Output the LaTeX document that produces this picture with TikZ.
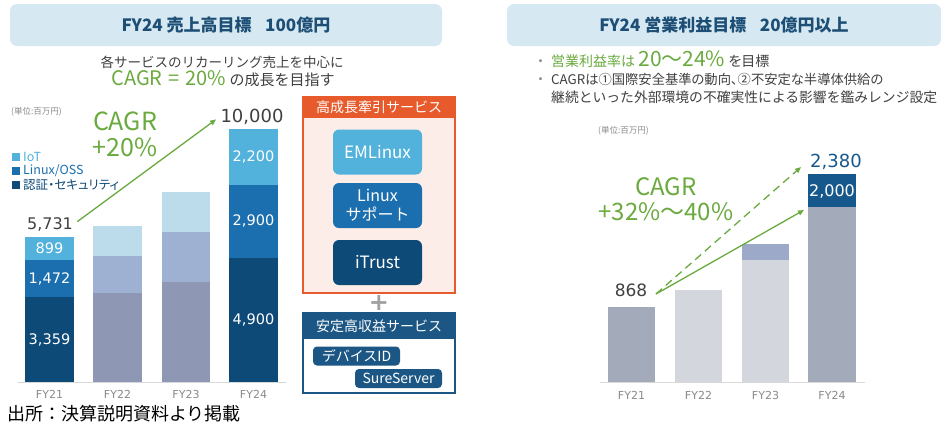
\documentclass[tikz,border=0pt]{standalone}
\usepackage{fontspec}
\setmainfont{Noto Sans CJK JP}[RawFeature=+palt]
\newfontfamily\jpfull{Noto Sans CJK JP}
\newfontfamily\num{DejaVu Sans}
\usetikzlibrary{arrows.meta}
\definecolor{hdrbg}{HTML}{D6E9F2}
\definecolor{hdrtxt}{HTML}{1D4E75}
\definecolor{cgreen}{HTML}{6AAA3F}
\definecolor{ciot}{HTML}{52B2DC}
\definecolor{clinux}{HTML}{1C6FAE}
\definecolor{csec}{HTML}{0E4A77}
\definecolor{pl}{HTML}{BCDCEC}
\definecolor{pm}{HTML}{9FB1D3}
\definecolor{pd}{HTML}{8E98B4}
\definecolor{corange}{HTML}{E65A2B}
\definecolor{cpink}{HTML}{FCEDE8}
\definecolor{cnavy}{HTML}{1B5684}
\definecolor{rga}{HTML}{A3ABBA}
\definecolor{rgb}{HTML}{D3D6DD}
\definecolor{rbc}{HTML}{9DA9C9}
\definecolor{rdark}{HTML}{17588C}
\definecolor{txtd}{HTML}{404040}
\definecolor{txtg}{HTML}{8A8A8A}
\definecolor{axisc}{HTML}{D9D9D9}
\definecolor{plusc}{HTML}{A0A0A0}
\newcommand\myfs[1]{\fontsize{#1}{#1}\selectfont}
\begin{document}
\begin{tikzpicture}[x=1pt,y=-1pt,
  hdr/.style={fill=hdrbg, rounded corners=7pt, text=hdrtxt, inner sep=0pt, font=\bfseries\myfs{17}},
  svc/.style={rounded corners=6pt, text=white, minimum width=89pt, minimum height=45pt, inner sep=0pt, align=center},
  tagbox/.style={fill=cnavy, rounded corners=4pt, text=white, minimum width=87pt, minimum height=19pt, inner sep=0pt, font=\jpfull\myfs{14}},
  barnum/.style={text=white, font=\num\myfs{14.5}},
  fylab/.style={text=txtg, font=\num\myfs{11}},
  unitlab/.style={text=txtg, anchor=west, inner sep=0pt, font=\myfs{8.5}},
  lgsq/.style={minimum size=8pt, inner sep=0pt},
  lgtxt/.style={anchor=west, inner sep=0pt, font=\myfs{12.5}},
  garrow/.style={draw=cgreen, line width=1.3pt, -{Triangle[length=6pt,width=5pt]}},
  axisline/.style={draw=axisc, line width=0.8pt},
  bultxt/.style={anchor=base west, inner sep=0pt, text=txtd, font=\myfs{14}},
]
\useasboundingbox (0,0) rectangle (941,429);
\fill[white] (0,0) rectangle (941,429);

% ---------- left panel ----------
\node[hdr, minimum width=432pt, minimum height=42pt] (lhead) at (226,25) {FY24 売上高目標\hspace{0.8em}100億円};
\node[text=txtd, font=\jpfull\myfs{13.5}] (lsub1) at (222,62) {各サービスのリカーリング売上を中心に};
\node[text=txtd, font=\jpfull\myfs{15}] (lsub2) at (223,79) {{\color{cgreen}\myfs{20}CAGR\hspace{0.3em}=\hspace{0.3em}20\%} の成長を目指す};

\node[unitlab] (lunit) at (11,112) {(単位:百万円)};
\node[lgsq, fill=ciot] (sq1) at (16,157) {};
\node[lgtxt, text=ciot] (lg1) at (23,157) {IoT};
\node[lgsq, fill=clinux] (sq2) at (16,171) {};
\node[lgtxt, text=clinux] (lg2) at (23,171) {Linux/OSS};
\node[lgsq, fill=csec] (sq3) at (16,185) {};
\node[lgtxt, text=csec] (lg3) at (23,185) {認証・セキュリティ};

\node[text=cgreen, font={\fontsize{25}{26}\selectfont}, align=center] (lcagr) at (125,134) {CAGR\\+20\%};

% bars
\fill[ciot] (25,237) rectangle (74,260);
\fill[clinux] (25,260) rectangle (74,297);
\fill[csec] (25,297) rectangle (74,382);
\fill[pl] (93,226) rectangle (142,256);
\fill[pm] (93,256) rectangle (142,293);
\fill[pd] (93,293) rectangle (142,382);
\fill[pl] (162,192) rectangle (210,232);
\fill[pm] (162,232) rectangle (210,282);
\fill[pd] (162,282) rectangle (210,382);
\fill[ciot] (229,129) rectangle (278,185);
\fill[clinux] (229,185) rectangle (278,258);
\fill[csec] (229,258) rectangle (278,382);
\draw[axisline] (18,382.5) -- (286,382.5);

\node[barnum] (n899) at (49.5,248.5) {899};
\node[barnum] (n1472) at (49.5,278.5) {1,472};
\node[barnum] (n3359) at (49.5,339.5) {3,359};
\node[barnum] (n2200) at (253.5,157) {2,200};
\node[barnum] (n2900) at (253.5,221) {2,900};
\node[barnum] (n4900) at (253.5,320) {4,900};

\node[fylab] (fa1) at (49.5,394) {FY21};
\node[fylab] (fa2) at (117.5,394) {FY22};
\node[fylab] (fa3) at (186,394) {FY23};
\node[fylab] (fa4) at (253.5,394) {FY24};

\node[text=txtd, font=\num\myfs{16}, inner sep=1pt] (v5731) at (50,224) {5,731};
\node[text=txtd, font=\num\myfs{18}, inner sep=1pt] (v10000) at (252,117) {10,000};
\draw[garrow, shorten <=4pt, shorten >=4pt] (v5731.east) -- (v10000.west);

% service boxes
\node[draw=corange, fill=cpink, line width=1.5pt, minimum width=152pt, minimum height=196pt, inner sep=0pt] (obox) at (379,195) {};
\node[fill=corange, minimum width=152pt, minimum height=22pt, anchor=north, text=white, font=\jpfull\myfs{14}, inner sep=0pt] (ohead) at (obox.north) {高成長牽引サービス};
\node[svc, fill=ciot, font=\myfs{17}] (em) at (377.5,152) {EMLinux};
\node[svc, fill=clinux, font={\jpfull\fontsize{16}{19}\selectfont}] (ls) at (377.5,205.5) {Linux\\サポート};
\node[svc, fill=csec, font=\myfs{17}] (it) at (377.5,262.5) {iTrust};

\node[text=plusc, font=\num\bfseries\myfs{24}] (plus) at (379,303) {+};

\node[draw=cnavy, fill=white, line width=1.5pt, minimum width=152pt, minimum height=80pt, inner sep=0pt] (bbox) at (379,353) {};
\node[fill=cnavy, minimum width=152pt, minimum height=27pt, anchor=north, text=white, font=\jpfull\myfs{14}, inner sep=0pt] (bhead) at (bbox.north) {安定高収益サービス};
\node[tagbox] (devid) at (356.5,356) {デバイスID};
\node[tagbox] (sure) at (398.5,378.5) {SureServer};

\node[anchor=west, font=\jpfull\myfs{18}, inner sep=0pt] (src) at (7,414) {出所：決算説明資料より掲載};

% ---------- right panel ----------
\node[hdr, minimum width=434pt, minimum height=42pt] (rhead) at (724,25) {FY24 営業利益目標\hspace{0.8em}20億円以上};

\node[bultxt, text=txtg] (bu1) at (537,66) {・};
\node[bultxt, text=cgreen] (b1) at (551,66) {営業利益率は {\myfs{21}20～24\%} {\color{txtd}を目標}};
\node[bultxt, text=txtg] (bu2) at (537,84) {・};
\node[bultxt, font=\myfs{13.3}] (b2) at (551,84) {CAGRは①国際安全基準の動向、②不安定な半導体供給の};
\node[bultxt, font=\jpfull\myfs{13.8}] (b3) at (551,102) {継続といった外部環境の不確実性による影響を鑑みレンジ設定};

\node[unitlab] (runit) at (598,131) {(単位:百万円)};

\fill[rga] (608,307) rectangle (655,382);
\fill[rgb] (675,290) rectangle (722,382);
\fill[rbc] (742,244) rectangle (789,260);
\fill[rgb] (742,260) rectangle (789,382);
\fill[rdark] (808,174) rectangle (856,207);
\fill[rga] (808,207) rectangle (856,382);
\draw[axisline] (600,382.5) -- (865,382.5);

\node[fylab] (fb1) at (631.5,395) {FY21};
\node[fylab] (fb2) at (698.5,395) {FY22};
\node[fylab] (fb3) at (765.5,395) {FY23};
\node[fylab] (fb4) at (832,395) {FY24};

\node[text=txtd, font=\num\myfs{17}, inner sep=1pt] (v868) at (631,290) {868};
\node[text=rdark, font=\num\myfs{18}, inner sep=1pt] (v2380) at (836,162) {2,380};
\node[barnum, font=\num\myfs{16}] (v2000) at (832,191) {2,000};

\node[text=cgreen, font={\fontsize{24}{24.5}\selectfont}, align=center] (rcagr) at (666,199) {CAGR\\+32\%～40\%};

\coordinate (rs) at (656,294);
\coordinate (dend) at (801,167);
\coordinate (send) at (804,210);
\draw[garrow, dash pattern=on 8pt off 5pt] (rs) -- (dend);
\draw[garrow] (rs) -- (send);
\end{tikzpicture}
\end{document}
